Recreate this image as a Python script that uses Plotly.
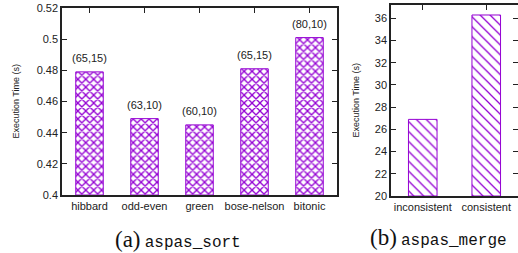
import plotly.graph_objects as go

# ---- data ----
sort_categories = ["hibbard", "odd-even", "green", "bose-nelson", "bitonic"]
sort_times = [0.479, 0.449, 0.445, 0.481, 0.501]
sort_labels = ["(65,15)", "(63,10)", "(60,10)", "(65,15)", "(80,10)"]
sort_yticks = [0.4, 0.42, 0.44, 0.46, 0.48, 0.5, 0.52]
sort_yticktext = ["0.4", "0.42", "0.44", "0.46", "0.48", "0.5", "0.52"]

merge_categories = ["inconsistent", "consistent"]
merge_times = [26.9, 36.3]
merge_yticks = [20, 22, 24, 26, 28, 30, 32, 34, 36]

PURPLE = "#9400D3"
AXC = "#222222"
FONT = "Liberation Sans"
W, H = 518, 253

fig = go.Figure()

fig.add_trace(go.Bar(
    x=sort_categories, y=[v - 0.4 for v in sort_times], base=0.4,
    width=0.5, xaxis="x", yaxis="y",
    marker=dict(color="white", line=dict(color=PURPLE, width=1),
                pattern=dict(shape="x", fgcolor=PURPLE, bgcolor="white",
                             size=5.6, solidity=0.42, fillmode="replace")),
    showlegend=False, hoverinfo="skip",
))
fig.add_trace(go.Bar(
    x=merge_categories, y=[v - 20 for v in merge_times], base=20,
    width=0.45, xaxis="x2", yaxis="y2",
    marker=dict(color="white", line=dict(color=PURPLE, width=1),
                pattern=dict(shape="\\", fgcolor=PURPLE, bgcolor="white",
                             size=7, solidity=0.18, fillmode="replace")),
    showlegend=False, hoverinfo="skip",
))

annotations = []
for c, v, t in zip(sort_categories, sort_times, sort_labels):
    annotations.append(dict(x=c, y=v, xref="x", yref="y", text=t,
                            showarrow=False, yanchor="bottom", yshift=6,
                            font=dict(family=FONT, size=11, color="#222")))

def px(x):
    return x / W

def py(y):
    return (H - y) / H

annotations.append(dict(x=px(15), y=py(101.5), xref="paper", yref="paper",
                        text="Execution Time (s)", textangle=-90, showarrow=False,
                        font=dict(family=FONT, size=9, color="#222"),
                        xanchor="center", yanchor="middle"))
annotations.append(dict(x=px(355), y=py(100.5), xref="paper", yref="paper",
                        text="Execution Time (s)", textangle=-90, showarrow=False,
                        font=dict(family=FONT, size=9, color="#222"),
                        xanchor="center", yanchor="middle"))
annotations.append(dict(x=px(177.5), y=py(239), xref="paper", yref="paper",
                        text="<span style='font-family:Liberation Serif;font-size:23px'>(a)</span> "
                             "<span style='font-family:Liberation Mono;font-size:16px'>aspas_sort</span>",
                        showarrow=False, xanchor="center", yanchor="middle",
                        font=dict(color="#111", size=16)))
annotations.append(dict(x=px(438), y=py(237), xref="paper", yref="paper",
                        text="<span style='font-family:Liberation Serif;font-size:23px'>(b)</span> "
                             "<span style='font-family:Liberation Mono;font-size:16px'>aspas_merge</span>",
                        showarrow=False, xanchor="center", yanchor="middle",
                        font=dict(color="#111", size=16)))

axis_common = dict(showline=True, linecolor=AXC, linewidth=1.5, mirror="ticks",
                   ticks="inside", ticklen=5, tickcolor=AXC, tickwidth=1,
                   showgrid=False, zeroline=False, automargin=False,
                   tickfont=dict(family=FONT, size=11, color="#222"))

fig.update_layout(
    width=W, height=H,
    margin=dict(l=0, r=0, t=0, b=0, pad=0),
    plot_bgcolor="white", paper_bgcolor="white",
    annotations=annotations,
    xaxis=dict(domain=[px(62), px(337)], range=[-0.5, 4.5], anchor="y",
               layer="below traces", **axis_common),
    yaxis=dict(domain=[py(195), py(8)], range=[0.4, 0.52], anchor="x",
               tickvals=sort_yticks, ticktext=sort_yticktext, **axis_common),
    xaxis2=dict(domain=[px(391), 1.0], range=[-0.5, 1.5], anchor="y2",
                layer="below traces", **axis_common),
    yaxis2=dict(domain=[py(196), py(5)], range=[20, 37.2], anchor="x2",
                tickvals=merge_yticks, **axis_common),
)

fig.write_html("out.html",
               config={"displayModeBar": False},
               post_script="document.body.style.margin='0';document.body.style.padding='0';"
                           "document.documentElement.style.margin='0';")
